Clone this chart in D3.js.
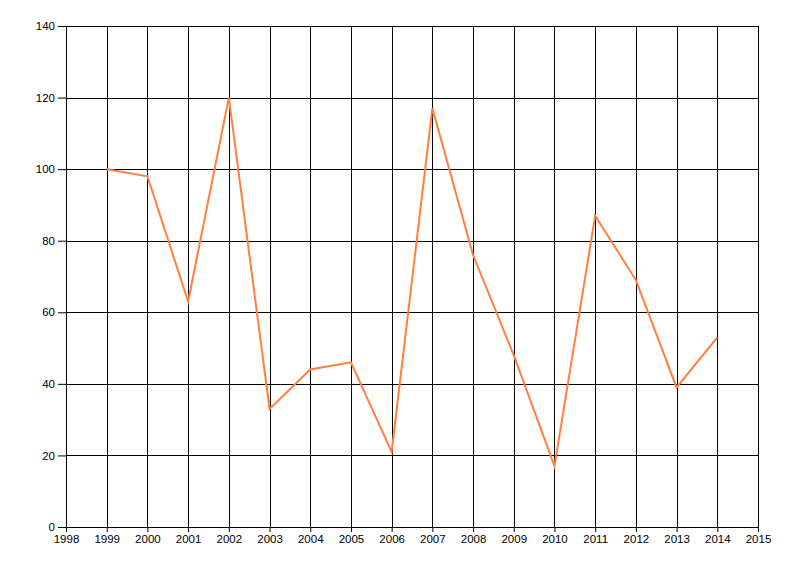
<!DOCTYPE html>
<html lang="en">
<head>
<meta charset="UTF-8">
<title>Line Chart</title>
<script src="https://d3js.org/d3.v7.min.js"></script>
<style>
    body { margin: 0; background: #fff; }
    text { font-family: "Liberation Sans", Arial, sans-serif; font-size: 11.5px; fill: #000; }
</style>
</head>
<body>
<div id="chart"></div>
<script>
    var years = [1999, 2000, 2001, 2002, 2003, 2004, 2005, 2006, 2007, 2008, 2009, 2010, 2011, 2012, 2013, 2014];
    var values = [100, 98, 63, 120, 33, 44, 46, 21, 117, 76, 48, 17, 87, 69, 39, 53];
    var xTicks = [1998, 1999, 2000, 2001, 2002, 2003, 2004, 2005, 2006, 2007, 2008, 2009, 2010, 2011, 2012, 2013, 2014, 2015];
    var yTicks = [0, 20, 40, 60, 80, 100, 120, 140];

    var w = 800, h = 576;
    var plotLeft = 66, plotRight = 758, plotTop = 26, plotBottom = 527;

    var svg = d3.select("#chart").append("svg")
        .attr("width", w).attr("height", h);

    var x = d3.scaleLinear().domain([1998, 2015]).range([plotLeft, plotRight]);
    var y = d3.scaleLinear().domain([0, 140]).range([plotBottom, plotTop]);

    // grid
    svg.append("g").selectAll("line")
        .data(xTicks).enter().append("line")
        .attr("x1", function(d) { return Math.round(x(d)) + 0.5; })
        .attr("x2", function(d) { return Math.round(x(d)) + 0.5; })
        .attr("y1", plotTop).attr("y2", plotBottom)
        .attr("stroke", "#000").attr("stroke-width", 1);

    svg.append("g").selectAll("line")
        .data(yTicks).enter().append("line")
        .attr("y1", function(d) { return Math.round(y(d)) + 0.5; })
        .attr("y2", function(d) { return Math.round(y(d)) + 0.5; })
        .attr("x1", plotLeft).attr("x2", plotRight + 1)
        .attr("stroke", "#000").attr("stroke-width", 1);

    // axes
    var xAxis = d3.axisBottom(x).tickValues(xTicks).tickFormat(d3.format("d")).tickSize(5).tickPadding(3);
    var yAxis = d3.axisLeft(y).tickValues(yTicks).tickSize(8).tickPadding(3);

    var gx = svg.append("g").attr("transform", "translate(0," + plotBottom + ")").call(xAxis);
    var gy = svg.append("g").attr("transform", "translate(" + plotLeft + ",0)").call(yAxis);
    [gx, gy].forEach(function(g) {
        g.select(".domain").remove();
        g.selectAll("line").attr("stroke", "#000");
        g.selectAll("text").attr("fill", "#000");
        g.attr("font-family", null).attr("font-size", null);
    });

    var line = d3.line()
        .x(function(d, i) { return x(years[i]); })
        .y(function(d) { return y(d); });

    svg.append("path")
        .datum(values)
        .attr("d", line)
        .attr("fill", "none")
        .attr("stroke", "#ff7f40")
        .attr("stroke-width", 2);
</script>
</body>
</html>
